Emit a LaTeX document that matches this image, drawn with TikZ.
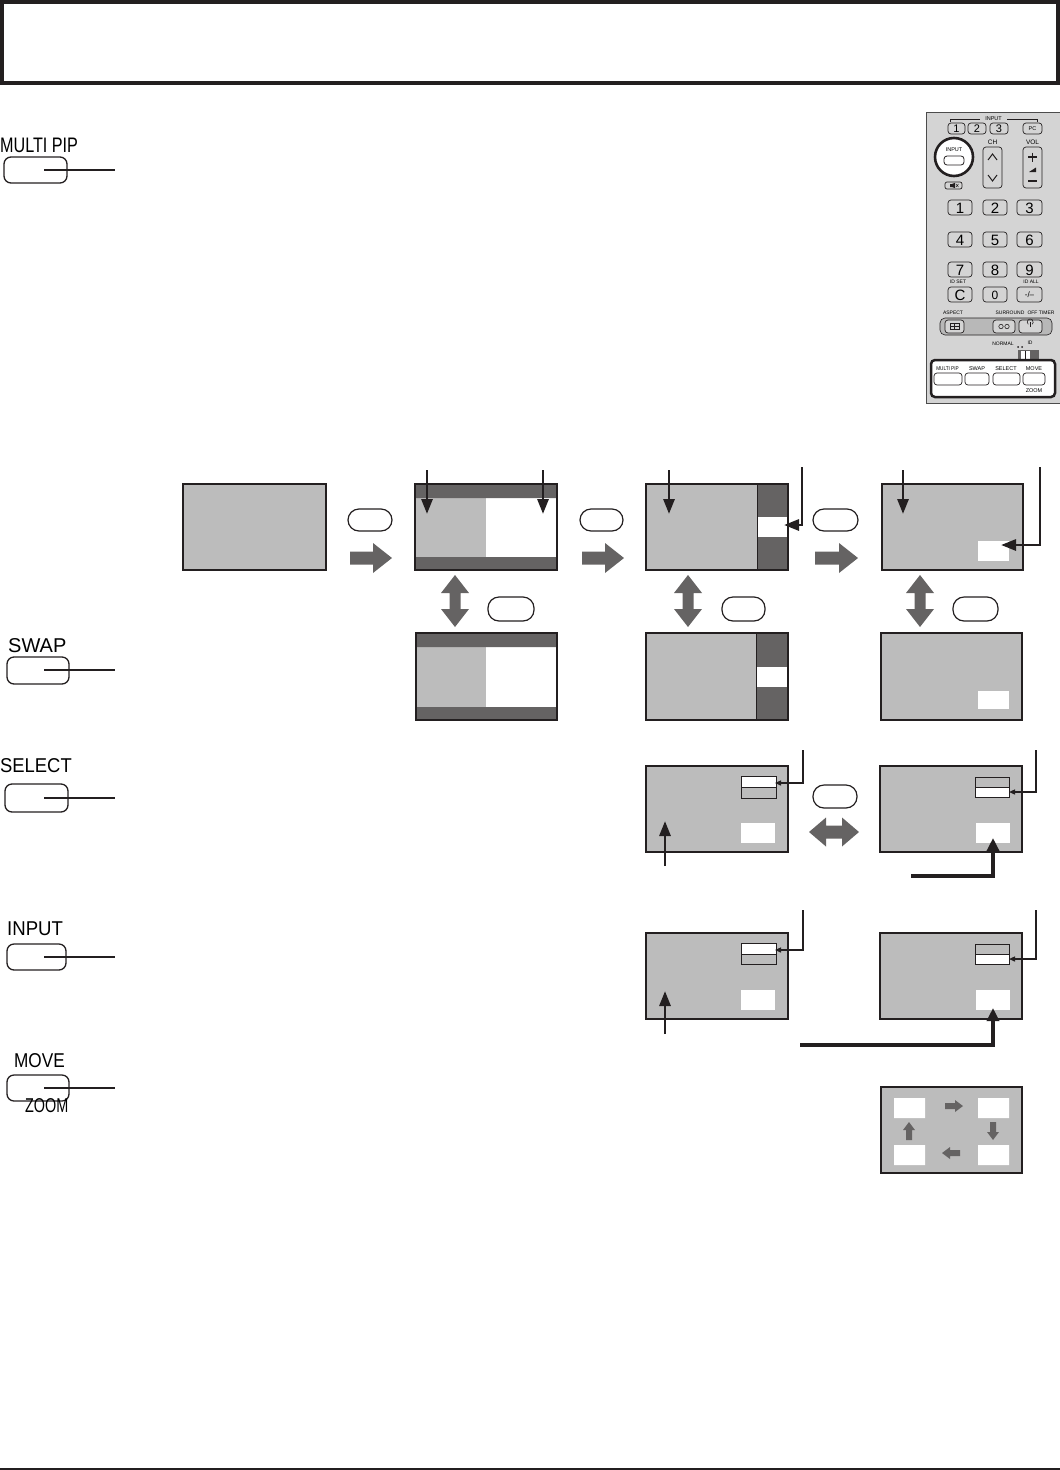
\documentclass[tikz,border=0pt]{standalone}
\usepackage{fontspec}
\setmainfont{Liberation Sans}
\usetikzlibrary{arrows.meta}
\definecolor{scr}{HTML}{BCBCBC}
\definecolor{band}{HTML}{656363}
\definecolor{ink}{HTML}{231F20}
\definecolor{rem}{HTML}{D4D4D4}
\definecolor{remd}{HTML}{B8B8B8}
\newcommand\fatarr[7]{% x, y (tail middle), rotation, length, head length, shaft half, head half
  \fill[band, shift={(#1,#2)}, rotate=#3] (0,-#6) -- ({#4-#5},-#6) -- ({#4-#5},-#7) -- (#4,0) -- ({#4-#5},#7) -- ({#4-#5},#6) -- (0,#6) -- cycle;}
\newcommand\dblarr[7]{% cx, cy, rotation, half length, head length, shaft half, head half
  \fill[band, shift={(#1,#2)}, rotate=#3] (-#4,0) -- ({-#4+#5},-#7) -- ({-#4+#5},-#6) -- ({#4-#5},-#6) -- ({#4-#5},-#7) -- (#4,0) -- ({#4-#5},#7) -- ({#4-#5},#6) -- ({-#4+#5},#6) -- ({-#4+#5},#7) -- cycle;}
\begin{document}
\begin{tikzpicture}[x=1pt,y=-1pt,
  screen/.style={draw=ink, line width=1.1},
  oval/.style={draw=ink, line width=1.2, rounded corners=11pt},
  lbtn/.style={draw=ink, line width=1.3, rounded corners=7pt},
  lab/.style={font=\fontsize{20}{20}\selectfont, inner sep=0, anchor=base west},
  pointer/.style={draw=ink, line width=2.9, -{Triangle[length=15pt,width=11pt]}},
  thinptr/.style={draw=ink, line width=1.3, -{Triangle[length=6pt,width=5pt]}},
  thickptr/.style={draw=ink, line width=3.8, -{Triangle[length=13pt,width=12pt]}},
  rkey/.style={draw=ink, line width=0.7, rounded corners=3pt},
  rtxt/.style={font=\fontsize{5.5}{6}\selectfont, inner sep=0},
  rdig/.style={font=\fontsize{15}{15}\selectfont, inner sep=0},
]
\useasboundingbox (0,0) rectangle (1060,1470);
% header and footer
\draw[ink, line width=4] (2,2) rectangle (1058,82.7);
\fill[ink] (0,1467.6) rectangle (1060,1470);

% ---------- left buttons ----------
\node[lab, font=\fontsize{21}{21}\selectfont, xscale=0.77] (tMP) at (0,152) {MULTI PIP};
\draw[lbtn] (4,157) rectangle (67,183);
\draw[ink, line width=1.3] (44,170) -- (115,170);

\node[lab] (tSW) at (8,652) {SWAP};
\draw[lbtn] (7,657) rectangle (69,684);
\draw[ink, line width=1.3] (44,670) -- (115,670);

\node[lab, xscale=0.92] (tSE) at (0,772) {SELECT};
\draw[lbtn] (5,784) rectangle (68,812);
\draw[ink, line width=1.3] (44,798) -- (115,798);

\node[lab, xscale=0.93] (tIN) at (7,935) {INPUT};
\draw[lbtn] (7,944) rectangle (66,970);
\draw[ink, line width=1.3] (44,957) -- (115,957);

\node[lab, xscale=0.86] (tMV) at (14,1067) {MOVE};
\draw[lbtn] (7,1075) rectangle (69,1101);
\draw[ink, line width=1.3] (44,1088) -- (115,1088);
\node[lab, xscale=0.72] (tZM) at (25,1112) {ZOOM};

% ---------- remote ----------
\fill[rem] (926,112) rectangle (1062,403);
\draw[gray!60!black, line width=1] (1062,112) -- (926,112) -- (926,403) -- (1062,403);
% input group
\draw[ink, line width=0.6] (950,122) -- (950,119) -- (980,119);
\draw[ink, line width=0.6] (1007,119) -- (1037,119) -- (1037,122);
\node[rtxt] at (993.5,119) {INPUT};
\draw[rkey] (948,123) rectangle (965,134); \node[rdig, font=\fontsize{11}{11}\selectfont] at (956.5,128.8) {1};
\draw[rkey] (968,123) rectangle (986,134); \node[rdig, font=\fontsize{11}{11}\selectfont] at (977,128.8) {2};
\draw[rkey] (990,123) rectangle (1008,134); \node[rdig, font=\fontsize{11}{11}\selectfont] at (999,128.8) {3};
\draw[rkey] (1023,123) rectangle (1042,134); \node[rtxt] at (1032.5,128.8) {PC};
% INPUT circle
\draw[ink, line width=2.6, fill=white] (954,157) circle (19);
\node[rtxt] at (954,150) {INPUT};
\draw[ink, line width=0.8, rounded corners=3pt] (944,156) rectangle (964,165);
% CH / VOL
\node[rtxt, font=\fontsize{6.5}{7}\selectfont] at (992.5,142) {CH};
\draw[rkey] (983,147) rectangle (1002,188);
\draw[ink, line width=1] (988,160) -- (992.5,154) -- (997,160);
\draw[ink, line width=1] (988,175) -- (992.5,181) -- (997,175);
\node[rtxt, font=\fontsize{6.5}{7}\selectfont] at (1032.5,142) {VOL};
\draw[rkey] (1023,147) rectangle (1042,188);
\draw[ink, line width=1.6] (1028,157) -- (1037,157) (1032.5,152.5) -- (1032.5,161.5);
\fill[ink] (1029,172) -- (1036,167.5) -- (1036,172) -- cycle;
\draw[ink, line width=1.8] (1028,181) -- (1037,181);
% mute
\draw[rkey, rounded corners=2pt] (945,182) rectangle (962,189);
\fill[ink] (950,184) rectangle (952,187) (952,184) -- (955,182.8) -- (955,188.2) -- (952,187) -- cycle;
\draw[ink, line width=0.5] (956,184) -- (958.5,187) (956,187) -- (958.5,184);
% number keys
\foreach \yt/\a/\b/\c in {200/1/2/3, 232/4/5/6, 262/7/8/9} {
  \draw[rkey] (948,\yt) rectangle (972,\yt+15); \node[rdig] at (960,\yt+8) {\a};
  \draw[rkey] (983,\yt) rectangle (1007,\yt+15); \node[rdig] at (995,\yt+8) {\b};
  \draw[rkey] (1017,\yt) rectangle (1042,\yt+15); \node[rdig] at (1029.5,\yt+8) {\c};
}
\node[rtxt, font=\fontsize{5}{5}\selectfont] at (958,282) {ID SET};
\node[rtxt, font=\fontsize{5}{5}\selectfont] at (1031,282) {ID ALL};
\draw[rkey] (948,287) rectangle (972,302); \node[rdig] at (960,295) {C};
\draw[rkey] (983,287) rectangle (1007,302); \node[rdig, font=\fontsize{12}{12}\selectfont] at (995,295) {0};
\draw[rkey] (1017,287) rectangle (1042,302); \node[rtxt, font=\fontsize{8}{8}\selectfont] at (1029.5,294.5) {-/--};
% aspect row
\node[rtxt, font=\fontsize{5}{5}\selectfont] at (953,313) {ASPECT};
\node[rtxt, font=\fontsize{5}{5}\selectfont] at (1010,313) {SURROUND};
\node[rtxt, font=\fontsize{5}{5}\selectfont] at (1041,313) {OFF TIMER};
\draw[ink, line width=0.6, fill=remd, rounded corners=5pt] (940,318) rectangle (1052,335);
\draw[rkey, fill=rem] (945,320) rectangle (964,333);
\draw[ink, line width=0.5] (950,323.5) rectangle (959,329.5) (954.5,323.5) -- (954.5,329.5) (950,326.5) -- (959,326.5);
\draw[rkey, fill=rem] (993,320) rectangle (1015,333);
\draw[ink, line width=0.6] (1001,326.5) circle (2.2) (1007,326.5) circle (2.2);
\draw[rkey, fill=rem] (1019,320) rectangle (1042,333);
\draw[ink, line width=0.6] (1028.3,324.3) arc (130:410:3) ;
\draw[ink, line width=0.6] (1030.5,322) -- (1030.5,326.5);
% normal / id switch
\node[rtxt, font=\fontsize{5}{5}\selectfont] at (1003,344) {NORMAL};
\fill[ink] (1018,347) circle (1) (1022,347) circle (1);
\node[rtxt, font=\fontsize{5}{5}\selectfont] at (1030,343) {ID};
\fill[band] (1018,350) rectangle (1039,359);
\fill[white] (1021,351) rectangle (1030,358.5);
\draw[ink, line width=0.5] (1025.5,351) -- (1025.5,358.5);
% highlight box
\draw[ink, line width=2.5, fill=white, rounded corners=4pt] (931,360) rectangle (1055,397);
\node[rtxt, font=\fontsize{5.5}{6}\selectfont, xscale=0.85] at (947.5,369) {MULTI PIP};
\node[rtxt] at (977,369) {SWAP};
\node[rtxt] at (1006,369) {SELECT};
\node[rtxt] at (1034,369) {MOVE};
\draw[rkey, fill=white] (934,373) rectangle (962,385);
\draw[rkey, fill=white] (965,373) rectangle (989,385);
\draw[rkey, fill=white] (993,373) rectangle (1020,385);
\draw[rkey, fill=white] (1023,373) rectangle (1045,385);
\node[rtxt] at (1034,391) {ZOOM};

% ---------- row 1 ----------
% screen A
\fill[scr] (183,484) rectangle (326,570);
\draw[screen] (183,484) rectangle (326,570);
\draw[oval] (348,509) rectangle (392,531);
\fatarr{350}{558}{0}{42}{19}{6.5}{15}
% screen B
\fill[scr] (415,484) rectangle (557,570);
\fill[white] (486,498) rectangle (557,557);
\fill[band] (415,484) rectangle (557,498) (415,557) rectangle (557,570);
\draw[screen] (415,484) rectangle (557,570);
\draw[pointer] (427,470) -- (427,514);
\draw[pointer] (543,470) -- (543,514);
\draw[oval] (580,509) rectangle (623,531);
\fatarr{582}{558}{0}{42}{19}{6.5}{15}
% screen C
\fill[scr] (646,484) rectangle (788,570);
\fill[band] (757,484) rectangle (788,570);
\fill[white] (757,517) rectangle (788,537);
\draw[screen] (646,484) rectangle (788,570);
\draw[ink, line width=1] (757,484) -- (757,570);
\draw[pointer] (669,470) -- (669,514);
\draw[pointer] (802,467) -- (802,525) -- (784,525);
\draw[oval] (813,509) rectangle (858,531);
\fatarr{815}{558}{0}{43}{19}{6.5}{15}
% screen D
\fill[scr] (882,484) rectangle (1023,570);
\fill[white] (978,541) rectangle (1009,561);
\draw[screen] (882,484) rectangle (1023,570);
\draw[pointer] (903,470) -- (903,514);
\draw[pointer] (1040,467) -- (1040,545) -- (1001,545);

% ---------- row 2 ----------
\dblarr{455}{601}{90}{26}{18}{5.5}{14}
\dblarr{688}{601}{90}{26}{18}{5.5}{14}
\dblarr{920}{601}{90}{26}{18}{5.5}{14}
\draw[oval] (488,597) rectangle (534,621);
\draw[oval] (722,597) rectangle (765,621);
\draw[oval] (953,597) rectangle (998,621);
% screen E
\fill[scr] (416,633) rectangle (557,720);
\fill[white] (486,647) rectangle (557,707);
\fill[band] (416,633) rectangle (557,647) (416,707) rectangle (557,720);
\draw[screen] (416,633) rectangle (557,720);
% screen F
\fill[scr] (646,633) rectangle (788,720);
\fill[band] (756,633) rectangle (788,720);
\fill[white] (756,667) rectangle (788,687);
\draw[screen] (646,633) rectangle (788,720);
\draw[ink, line width=1] (756,633) -- (756,720);
% screen G
\fill[scr] (881,633) rectangle (1022,720);
\fill[white] (978,691) rectangle (1009,709);
\draw[screen] (881,633) rectangle (1022,720);

% ---------- row 3 ----------
% screen H
\fill[scr] (646,766) rectangle (788,852);
\fill[white] (741,823) rectangle (775,843);
\fill[white] (741,776) rectangle (776,787);
\draw[ink, line width=1] (741,776) rectangle (776,798) (741,787) -- (776,787);
\draw[screen] (646,766) rectangle (788,852);
\draw[pointer] (665,866) -- (665,821);
\draw[thinptr] (803,750) -- (803,783) -- (775,783);
\draw[oval] (813,785) rectangle (857,808);
\dblarr{834}{832}{0}{25}{17}{6.5}{14.5}
% screen I
\fill[scr] (880,766) rectangle (1022,852);
\fill[white] (976,823) rectangle (1010,843);
\fill[white] (975,787) rectangle (1009,797);
\draw[ink, line width=1] (975,777) rectangle (1009,797) (975,787) -- (1009,787);
\draw[screen] (880,766) rectangle (1022,852);
\draw[thinptr] (1036,750) -- (1036,792) -- (1009,792);
\draw[thickptr] (911,876) -- (993,876) -- (993,838);

% ---------- row 4 ----------
% screen J
\fill[scr] (646,933) rectangle (788,1019);
\fill[white] (741,990) rectangle (775,1010);
\fill[white] (741,943) rectangle (776,954);
\draw[ink, line width=1] (741,943) rectangle (776,964) (741,954) -- (776,954);
\draw[screen] (646,933) rectangle (788,1019);
\draw[pointer] (665,1034) -- (665,991);
\draw[thinptr] (803,910) -- (803,950) -- (775,950);
% screen K
\fill[scr] (880,933) rectangle (1022,1019);
\fill[white] (976,990) rectangle (1010,1010);
\fill[white] (975,954) rectangle (1009,964);
\draw[ink, line width=1] (975,944) rectangle (1009,964) (975,954) -- (1009,954);
\draw[screen] (880,933) rectangle (1022,1019);
\draw[thinptr] (1036,910) -- (1036,959) -- (1009,959);
\draw[thickptr] (800,1045) -- (993,1045) -- (993,1008);

% ---------- row 5 ----------
\fill[scr] (881,1087) rectangle (1022,1173);
\fill[white] (894,1098) rectangle (925,1118) (978,1098) rectangle (1009,1118)
             (894,1145) rectangle (925,1165) (978,1145) rectangle (1009,1165);
\draw[screen] (881,1087) rectangle (1022,1173);
\fatarr{945}{1106}{0}{18}{8}{3}{6}
\fatarr{993}{1122}{-90}{18}{8}{3}{6}
\fatarr{960}{1153}{180}{18}{8}{3}{6}
\fatarr{909}{1140}{90}{18}{8}{3}{6}
\end{tikzpicture}
\end{document}
